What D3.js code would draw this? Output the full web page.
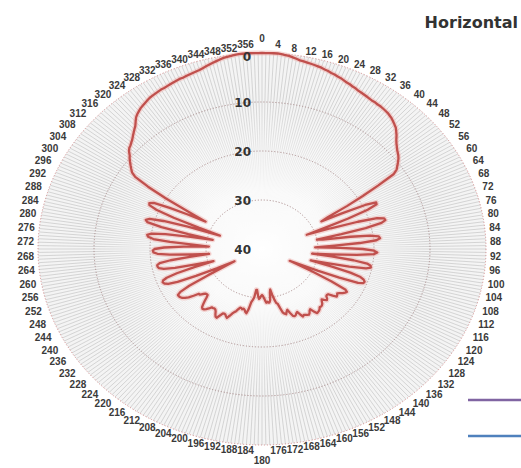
<!DOCTYPE html>
<html>
<head>
<meta charset="utf-8">
<script src="https://d3js.org/d3.v7.min.js"></script>
<style>
  body { margin: 0; background: #fff; }
</style>
</head>
<body>
<svg id="chart" width="521" height="468"></svg>
<script>
// categories: one per degree, labelled every 4
const angles = d3.range(0, 360);
const angleLabels = angles.filter(a => a % 4 === 0);
const ringValues = [0, 10, 20, 30, 40];

// attenuation in dB, one value per degree (0..359)
const horizontal = [
  0, 0, 0, 0, 0, 0.1, 0.2, 0.3, 0.5, 0.7,
  0.9, 1.0, 1.1, 1.2, 1.3, 1.4, 1.5, 1.7, 1.8, 2.0,
  2.1, 2.3, 2.4, 2.6, 2.8, 2.9, 3.1, 3.2, 3.4, 3.5,
  3.6, 3.7, 3.8, 3.9, 3.9, 4.0, 4.0, 4.1, 4.2, 4.3,
  4.5, 4.7, 5.0, 5.3, 5.6, 6.1, 6.6, 7.2, 7.7, 8.1,
  8.5, 8.8, 9.1, 9.5, 10.0, 10.5, 11.0, 12.0, 15.5, 19.0,
  22.5, 26.5, 28.0, 24.0, 19.5, 17.5, 17.6, 19.5, 23.5, 28.0,
  31.5, 27.0, 22.0, 18.5, 17.3, 17.2, 18.0, 21.0, 25.5, 30.0,
  29.0, 24.0, 20.5, 19.0, 18.8, 19.5, 22.5, 27.0, 30.5, 26.0,
  22.0, 20.0, 19.4, 20.0, 23.0, 27.5, 31.0, 27.5, 23.5, 21.0,
  20.3, 20.2, 21.0, 24.0, 28.0, 31.0, 27.0, 23.5, 21.5, 20.8,
  20.5, 20.6, 21.5, 25.0, 29.0, 33.0, 34.5, 30.0, 26.0, 23.0,
  22.5, 22.7, 23.0, 23.5, 23.8, 23.6, 23.5, 24.2, 25.0, 25.1,
  25.0, 24.6, 24.4, 24.8, 25.2, 24.9, 24.5, 24.3, 24.2, 24.3,
  24.0, 23.8, 23.7, 23.6, 24.2, 25.0, 24.8, 24.4, 24.2, 24.3,
  24.5, 24.6, 24.4, 25.0, 25.7, 25.5, 25.2, 25.1, 25.3, 26.0,
  26.8, 26.5, 26.0, 26.2, 26.5, 27.5, 28.5, 28.7, 29.5, 30.5,
  31.6, 31.0, 29.5, 29.0, 29.0, 29.2, 29.0, 29.5, 30.0, 30.4,
  30.6, 30.4, 30.0, 29.8, 30.3, 31.0, 31.6, 31.6, 30.0, 29.5,
  29.0, 27.5, 26.6, 26.8, 27.2, 27.4, 27.2, 27.4, 27.4, 27.0,
  26.5, 26.2, 25.8, 25.2, 24.6, 24.8, 25.1, 25.2, 25.1, 24.5,
  23.8, 23.9, 24.3, 24.8, 25.1, 25.2, 25.1, 25.1, 24.6, 24.2,
  23.9, 23.8, 24.0, 24.6, 25.3, 26.0, 26.5, 26.5, 26.4, 26.0,
  25.5, 25.5, 24.5, 23.6, 23.0, 22.6, 22.4, 22.3, 22.3, 23.0,
  25.0, 29.0, 33.0, 34.5, 31.0, 27.0, 23.5, 21.8, 21.2, 21.0,
  21.2, 22.0, 24.0, 27.5, 31.0, 28.0, 24.0, 22.0, 21.2, 21.0,
  21.0, 21.5, 23.5, 27.0, 30.5, 27.5, 23.5, 21.3, 20.6, 20.5,
  20.8, 22.5, 26.0, 30.5, 28.0, 23.5, 20.5, 19.5, 19.3, 20.0,
  22.5, 27.0, 31.0, 26.5, 21.5, 18.8, 18.4, 19.0, 21.5, 26.0,
  32.0, 28.0, 23.0, 19.5, 18.0, 17.8, 18.5, 21.5, 25.0, 28.5,
  25.0, 20.0, 16.0, 13.0, 12.0, 11.5, 11.0, 10.5, 10.0, 9.6,
  9.0, 8.6, 8.4, 8.1, 7.8, 7.4, 7.0, 6.6, 6.2, 5.6,
  5.0, 4.6, 4.3, 4.0, 3.8, 3.6, 3.4, 3.2, 3.1, 3.0,
  2.9, 2.8, 2.8, 2.7, 2.6, 2.5, 2.4, 2.3, 2.3, 2.2,
  2.1, 2.0, 1.9, 1.8, 1.6, 1.4, 1.2, 1.0, 0.8, 0.6,
  0.4, 0.3, 0.2, 0.1, 0, 0, 0, 0, 0, 0
];

const legendColors = ["#8064a2", "#4f81bd"];

const svg = d3.select("#chart");
const cx = 262, cy = 249, rx = 224, ry = 196;

// radial axis is reversed: 0 dB on the rim, 40 dB in the middle
const rX = d3.scaleLinear().domain([0, 40]).range([rx, 0]);
const rY = d3.scaleLinear().domain([0, 40]).range([ry, 0]);
const rad = a => a * Math.PI / 180;

const defs = svg.append("defs");
const glow = defs.append("radialGradient").attr("id", "glow");
glow.append("stop").attr("offset", "0%").attr("stop-color", "#fff").attr("stop-opacity", 1);
glow.append("stop").attr("offset", "30%").attr("stop-color", "#fff").attr("stop-opacity", 0.85);
glow.append("stop").attr("offset", "75%").attr("stop-color", "#fff").attr("stop-opacity", 0);

svg.append("ellipse")
  .attr("cx", cx).attr("cy", cy).attr("rx", rx).attr("ry", ry)
  .attr("fill", "#f4f4f4");

// spokes
svg.append("g").selectAll("line")
  .data(angles)
  .enter().append("line")
  .attr("x1", cx).attr("y1", cy)
  .attr("x2", a => cx + rX(0) * Math.sin(rad(a)))
  .attr("y2", a => cy - rY(0) * Math.cos(rad(a)))
  .attr("stroke", "#c6c6c6")
  .attr("stroke-width", 0.7);

svg.append("ellipse")
  .attr("cx", cx).attr("cy", cy).attr("rx", rx).attr("ry", ry)
  .attr("fill", "url(#glow)");

// rings
svg.append("g").selectAll("ellipse")
  .data(ringValues.filter(v => v < 40))
  .enter().append("ellipse")
  .attr("cx", cx).attr("cy", cy)
  .attr("rx", v => rX(v)).attr("ry", v => rY(v))
  .attr("fill", "none")
  .attr("stroke", v => v === 0 ? "#d08a8a" : "#a88a8a")
  .attr("stroke-width", 0.9)
  .attr("stroke-dasharray", "1.2 1.8");

// pattern
const line = d3.line()
  .x((d, i) => cx + rX(d) * Math.sin(rad(angles[i])))
  .y((d, i) => cy - rY(d) * Math.cos(rad(angles[i])))
  .curve(d3.curveLinearClosed);

svg.append("path")
  .attr("d", line(horizontal))
  .attr("fill", "none")
  .attr("stroke", "#f0b4b0")
  .attr("stroke-width", 5)
  .attr("stroke-opacity", 0.5)
  .attr("stroke-linejoin", "round");

svg.append("path")
  .attr("d", line(horizontal))
  .attr("fill", "none")
  .attr("stroke", "#c0504d")
  .attr("stroke-width", 2.3)
  .attr("stroke-linejoin", "round");

// ring labels
svg.append("g").selectAll("text")
  .data(ringValues)
  .enter().append("text")
  .attr("x", 251)
  .attr("y", v => cy - rY(v) + (v === 0 ? 4 : 1))
  .attr("text-anchor", "end")
  .attr("dominant-baseline", "central")
  .style("font-family", "DejaVu Sans")
  .style("font-weight", "bold")
  .style("font-size", "12px")
  .style("fill", "#333")
  .text(d => d);

// angle labels round the rim
svg.append("g").selectAll("text")
  .data(angleLabels)
  .enter().append("text")
  .attr("x", a => {
    const s = Math.sin(rad(a));
    const w = String(a).length * 5.6;
    const k = 1 + 0.05 * Math.pow(Math.sin(rad(2 * a)), 2);
    return cx + 228 * k * s + s * w / 2;
  })
  .attr("y", a => {
    const c = Math.cos(rad(a));
    const extra = (a === 0 || a === 180) ? 9 : (a === 356 || a === 4) ? 3 : 0;
    return cy - (198 + extra) * c - c * 4;
  })
  .attr("text-anchor", "middle")
  .attr("dominant-baseline", "central")
  .style("font-family", "Liberation Sans")
  .style("font-weight", "bold")
  .style("font-size", "10px")
  .style("fill", "#3a3a3a")
  .text(d => d);

// title
svg.append("text")
  .attr("x", 518).attr("y", 28)
  .attr("text-anchor", "end")
  .style("font-family", "DejaVu Sans")
  .style("font-weight", "bold")
  .style("font-size", "16px")
  .style("fill", "#333")
  .text("Horizontal");

// legend keys (their labels fall outside the picture)
svg.append("g").selectAll("line")
  .data(legendColors)
  .enter().append("line")
  .attr("x1", 468).attr("x2", 530)
  .attr("y1", (d, i) => 400 + i * 36)
  .attr("y2", (d, i) => 400 + i * 36)
  .attr("stroke", d => d)
  .attr("stroke-width", 2.6);
</script>
</body>
</html>
